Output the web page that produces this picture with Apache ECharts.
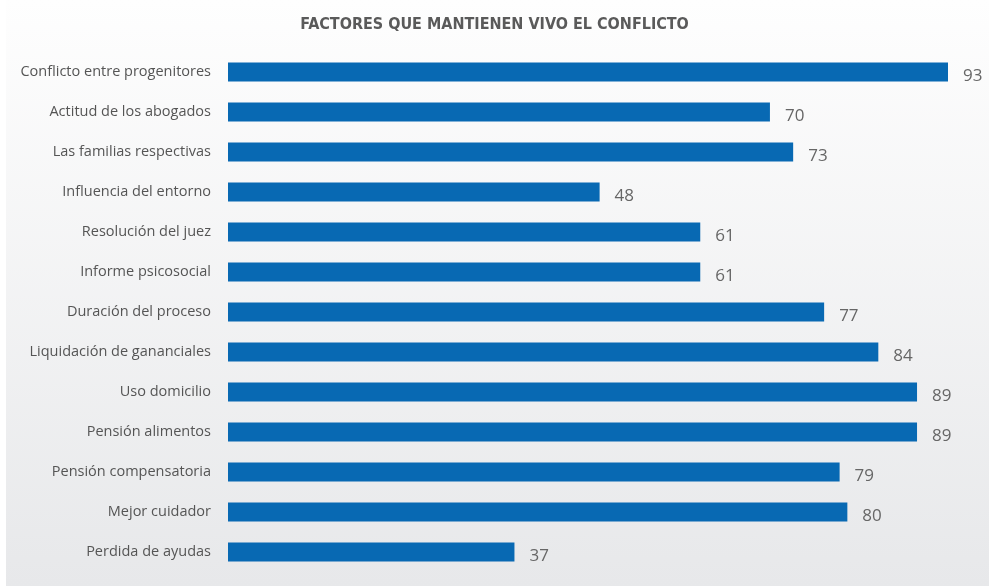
<!DOCTYPE html>
<html><head><meta charset="utf-8">
<script src="https://cdn.jsdelivr.net/npm/echarts@6/dist/echarts.min.js"></script>
<style>html,body{margin:0;padding:0;background:#fff}#c{width:989px;height:587px}</style>
</head><body><div id="c"></div>
<script>
const title = "FACTORES QUE MANTIENEN VIVO EL CONFLICTO";
const categories = ["Conflicto entre progenitores","Actitud de los abogados","Las familias respectivas","Influencia del entorno","Resolución del juez","Informe psicosocial","Duración del proceso","Liquidación de gananciales","Uso domicilio","Pensión alimentos","Pensión compensatoria","Mejor cuidador","Perdida de ayudas"];
const values = [93,70,73,48,61,61,77,84,89,89,79,80,37];

const chart = echarts.init(document.getElementById('c'));
chart.setOption({
  backgroundColor: '#ffffff',
  animation: false,
  graphic: [{
    type: 'rect', z: -10, silent: true,
    shape: {x: 6, y: 0, width: 983, height: 586},
    style: {fill: new echarts.graphic.LinearGradient(0,0,0,1,[{offset:0,color:'#fefefe'},{offset:1,color:'#e7e8ea'}])}
  }],
  title: {
    text: title, left: 'center', top: 12,
    textStyle: {fontFamily: '"DejaVu Sans Condensed", Roboto, sans-serif', fontWeight: 'bold', fontSize: 16, color: '#5a5a5a'}
  },
  grid: {left: 228, right: 41, top: 52, bottom: 15, containLabel: false},
  xAxis: {type: 'value', min: 0, max: 93, show: false},
  yAxis: {
    type: 'category', data: categories, inverse: true,
    axisLine: {show: false}, axisTick: {show: false}, splitLine: {show: false},
    axisLabel: {margin: 17, fontFamily: 'Open Sans', fontSize: 14.5, color: '#555555'}
  },
  series: [{
    type: 'bar', data: values, barWidth: 19,
    itemStyle: {color: '#0869b3'},
    label: {show: true, position: 'right', distance: 15, offset: [0, 4], fontFamily: 'Open Sans', fontSize: 17, color: '#666666'}
  }]
});
</script></body></html>
